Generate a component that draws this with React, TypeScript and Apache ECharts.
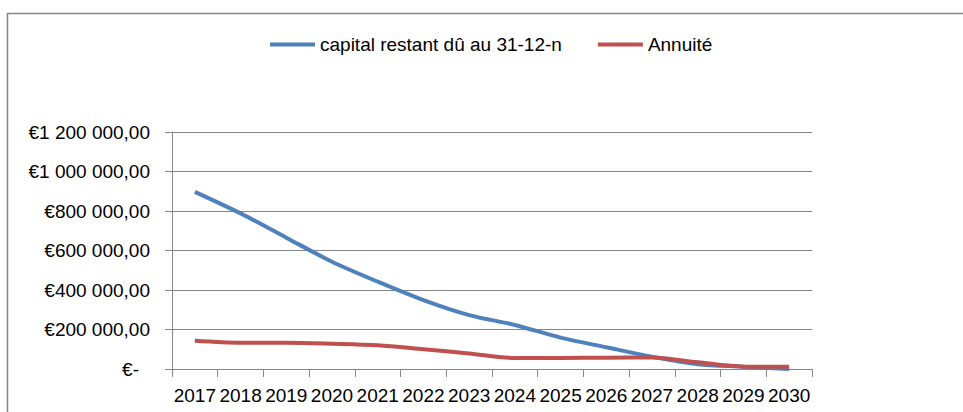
import React, { useEffect, useRef } from "react";
import * as echarts from "echarts";

const years = ["2017", "2018", "2019", "2020", "2021", "2022", "2023", "2024", "2025", "2026", "2027", "2028", "2029", "2030"];
const capitalRestant = [897000, 788000, 665000, 543000, 442000, 349000, 273000, 223000, 159000, 110000, 62000, 24000, 12000, 0];
const annuite = [143000, 133000, 133000, 128000, 120000, 100000, 79000, 56000, 56000, 57000, 58000, 34000, 12000, 12000];
const seriesNames = ["capital restant dû au 31-12-n", "Annuité"];

const FONT = "'Liberation Sans', Arial, sans-serif";

function formatEuro(v: number): string {
  if (v === 0) return "{z|€-}";
  const s = Math.round(v).toString().replace(/\B(?=(\d{3})+(?!\d))/g, " ");
  return "€" + s + ",00";
}

export default function App() {
  const ref = useRef<HTMLDivElement>(null);
  useEffect(() => {
    if (!ref.current) return;
    const chart = echarts.init(ref.current, null, { renderer: "svg" });
    chart.setOption({
      animation: false,
      backgroundColor: "#ffffff",
      textStyle: { fontFamily: FONT },
      graphic: [
        {
          type: "rect",
          shape: { x: 7.5, y: 13.5, width: 1000, height: 500 },
          style: { fill: "none", stroke: "#868686", lineWidth: 1.5 },
          silent: true,
        },
      ],
      legend: {
        left: 265,
        top: 30,
        itemWidth: 45,
        itemHeight: 4,
        itemGap: 36,
        textStyle: { fontFamily: FONT, fontSize: 19, color: "#000" },
        data: [
          { name: seriesNames[0], icon: "rect" },
          { name: seriesNames[1], icon: "rect" },
        ],
      },
      grid: { left: 172, right: 151, top: 132, bottom: 43, containLabel: false },
      xAxis: {
        type: "category",
        data: years,
        boundaryGap: true,
        axisLine: { show: true, lineStyle: { color: "#868686", width: 1 } },
        axisTick: { show: true, length: 8, lineStyle: { color: "#868686" } },
        axisLabel: { color: "#000", fontFamily: FONT, fontSize: 19, margin: 17, interval: 0 },
        splitLine: { show: false },
      },
      yAxis: {
        type: "value",
        min: 0,
        max: 1200000,
        interval: 200000,
        axisLine: { show: true, lineStyle: { color: "#868686", width: 1 } },
        axisTick: { show: true, length: 7, lineStyle: { color: "#868686" } },
        axisLabel: {
          color: "#000",
          fontFamily: FONT,
          fontSize: 19,
          margin: 22,
          formatter: (v: number) => formatEuro(v),
          rich: { z: { fontFamily: FONT, fontSize: 19, color: "#000", padding: [0, 11, 0, 0] } },
        },
        splitLine: { show: true, lineStyle: { color: "#868686", width: 1 } },
      },
      series: [
        {
          name: seriesNames[0],
          type: "line",
          data: capitalRestant,
          smooth: 0.3,
          symbol: "none",
          lineStyle: { color: "#4F81BD", width: 4 },
          itemStyle: { color: "#4F81BD" },
        },
        {
          name: seriesNames[1],
          type: "line",
          data: annuite,
          smooth: 0.3,
          symbol: "none",
          lineStyle: { color: "#C0504D", width: 4 },
          itemStyle: { color: "#C0504D" },
        },
      ],
    });
    return () => chart.dispose();
  }, []);
  return (
    <div
      ref={ref}
      style={{ position: "fixed", left: 0, top: 0, width: 963, height: 412 }}
    />
  );
}
